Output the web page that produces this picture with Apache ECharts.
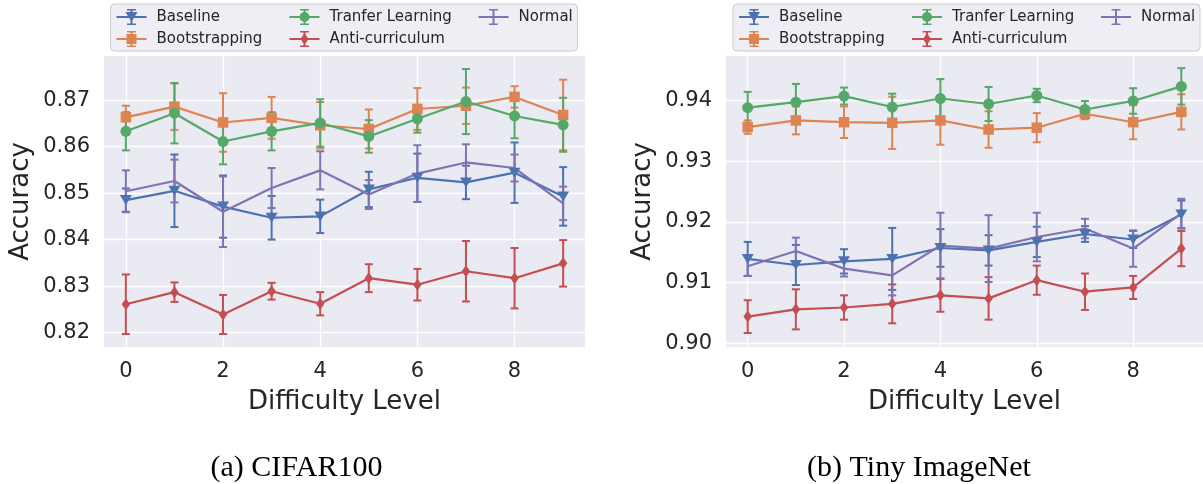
<!DOCTYPE html>
<html>
<head>
<meta charset="utf-8">
<title>Accuracy by difficulty level</title>
<script src="https://cdn.jsdelivr.net/npm/echarts@6/dist/echarts.min.js"></script>
<style>
  html, body { margin: 0; padding: 0; background: #ffffff; }
  #chart { width: 1203px; height: 484px; }
</style>
</head>
<body>
<div id="chart"></div>
<script>
// Difficulty levels on the x axis
const levels = [0, 1, 2, 3, 4, 5, 6, 7, 8, 9];
const xTicks = [0, 2, 4, 6, 8];
const yTicksCifar = [0.82, 0.83, 0.84, 0.85, 0.86, 0.87];
const yTicksTiny = [0.90, 0.91, 0.92, 0.93, 0.94];

const methods = ['Baseline', 'Bootstrapping', 'Tranfer Learning', 'Anti-curriculum', 'Normal'];

// CIFAR100: mean accuracy and error (half-width) per level
const cifarBaseline      = [0.8485, 0.8505, 0.8471, 0.8447, 0.8450, 0.8508, 0.8533, 0.8523, 0.8544, 0.8493];
const cifarBaselineErr   = [0.0025, 0.0078, 0.0067, 0.0047, 0.0036, 0.0038, 0.0052, 0.0036, 0.0065, 0.0063];
const cifarBootstrap     = [0.8663, 0.8686, 0.8652, 0.8662, 0.8646, 0.8638, 0.8681, 0.8688, 0.8707, 0.8668];
const cifarBootstrapErr  = [0.0025, 0.0050, 0.0063, 0.0045, 0.0050, 0.0042, 0.0045, 0.0039, 0.0023, 0.0076];
const cifarTransfer      = [0.8633, 0.8672, 0.8611, 0.8633, 0.8651, 0.8622, 0.8660, 0.8697, 0.8666, 0.8647];
const cifarTransferErr   = [0.0041, 0.0065, 0.0049, 0.0041, 0.0051, 0.0035, 0.0030, 0.0070, 0.0048, 0.0058];
const cifarAnti          = [0.8261, 0.8287, 0.8239, 0.8289, 0.8262, 0.8317, 0.8303, 0.8332, 0.8317, 0.8349];
const cifarAntiErr       = [0.0064, 0.0021, 0.0042, 0.0018, 0.0025, 0.0030, 0.0034, 0.0065, 0.0065, 0.0050];
const cifarNormal        = [0.8504, 0.8526, 0.8460, 0.8511, 0.8549, 0.8497, 0.8542, 0.8566, 0.8554, 0.8478];
const cifarNormalErr     = [0.0045, 0.0046, 0.0076, 0.0043, 0.0041, 0.0031, 0.0061, 0.0039, 0.0029, 0.0036];

// Tiny ImageNet: mean accuracy and error (half-width) per level
const tinyBaseline       = [0.9139, 0.9129, 0.9135, 0.9139, 0.9157, 0.9153, 0.9167, 0.9180, 0.9171, 0.9212];
const tinyBaselineErr    = [0.0028, 0.0033, 0.0020, 0.0051, 0.0031, 0.0025, 0.0025, 0.0013, 0.0014, 0.0023];
const tinyBootstrap      = [0.9356, 0.9367, 0.9364, 0.9363, 0.9367, 0.9352, 0.9355, 0.9378, 0.9364, 0.9381];
const tinyBootstrapErr   = [0.0011, 0.0023, 0.0026, 0.0043, 0.0040, 0.0030, 0.0024, 0.0009, 0.0028, 0.0029];
const tinyTransfer       = [0.9388, 0.9397, 0.9407, 0.9389, 0.9403, 0.9394, 0.9408, 0.9385, 0.9399, 0.9423];
const tinyTransferErr    = [0.0026, 0.0030, 0.0014, 0.0022, 0.0032, 0.0028, 0.0011, 0.0014, 0.0021, 0.0030];
const tinyAnti           = [0.9044, 0.9056, 0.9059, 0.9065, 0.9079, 0.9074, 0.9104, 0.9085, 0.9092, 0.9156];
const tinyAntiErr        = [0.0027, 0.0033, 0.0020, 0.0032, 0.0027, 0.0035, 0.0024, 0.0030, 0.0019, 0.0029];
const tinyNormal         = [0.9127, 0.9152, 0.9123, 0.9112, 0.9161, 0.9156, 0.9175, 0.9189, 0.9156, 0.9214];
const tinyNormalErr      = [0.0016, 0.0022, 0.0013, 0.0033, 0.0054, 0.0055, 0.0040, 0.0016, 0.0030, 0.0024];

const panels = [
  { caption: '(a) CIFAR100', ticks: yTicksCifar, min: 0.8169, max: 0.8795,
    means: [cifarBaseline, cifarBootstrap, cifarTransfer, cifarAnti, cifarNormal],
    errs:  [cifarBaselineErr, cifarBootstrapErr, cifarTransferErr, cifarAntiErr, cifarNormalErr] },
  { caption: '(b) Tiny ImageNet', ticks: yTicksTiny, min: 0.8994, max: 0.9473,
    means: [tinyBaseline, tinyBootstrap, tinyTransfer, tinyAnti, tinyNormal],
    errs:  [tinyBaselineErr, tinyBootstrapErr, tinyTransferErr, tinyAntiErr, tinyNormalErr] }
];

// seaborn "deep" palette
const colors = ['#4c72b0', '#dd8452', '#55a868', '#c44e52', '#8172b3'];
const markers = [
  { symbol: 'triangle', size: [12, 10], rotate: 180 },
  { symbol: 'rect', size: 10.5, rotate: 0 },
  { symbol: 'circle', size: 11, rotate: 0 },
  { symbol: 'diamond', size: [8.5, 12], rotate: 0 },
  { symbol: 'none', size: 0, rotate: 0 }
];

// legend glyphs (30 x 16 box): line + error bar + marker
const glyphBase = 'M0,7 H30 V9 H0 Z M14,0 H16 V16 H14 Z M10.5,0 H19.5 V1.6 H10.5 Z M10.5,14.4 H19.5 V16 H10.5 Z ';
const glyphMarks = [
  'M9,3 H21 L15,13 Z',
  'M10,3 H20 V13 H10 Z',
  'M10,8 A5,5 0 1,1 20,8 A5,5 0 1,1 10,8 Z',
  'M15,2 L19,8 L15,14 L11,8 Z',
  ''
];

const ink = '#262626';
const font = 'DejaVu Sans';

const plotTop = 56, plotHeight = 291;
const grids = [
  { left: 104, top: plotTop, width: 481, height: plotHeight },
  { left: 726, top: plotTop, width: 481, height: plotHeight }
];

function errorBarRenderer(color) {
  return function (params, api) {
    const x = api.value(0);
    const top = api.coord([x, api.value(2)]);
    const bot = api.coord([x, api.value(1)]);
    const cap = 4;
    const style = { stroke: color, lineWidth: 2 };
    return {
      type: 'group',
      children: [
        { type: 'line', shape: { x1: top[0], y1: top[1], x2: bot[0], y2: bot[1] }, style },
        { type: 'line', shape: { x1: top[0] - cap, y1: top[1], x2: top[0] + cap, y2: top[1] }, style },
        { type: 'line', shape: { x1: bot[0] - cap, y1: bot[1], x2: bot[0] + cap, y2: bot[1] }, style }
      ]
    };
  };
}

const xAxes = [], yAxes = [], series = [], legends = [], graphics = [];

panels.forEach((p, gi) => {
  xAxes.push({
    type: 'value', gridIndex: gi, min: -0.45, max: 9.45,
    name: 'Difficulty Level', nameLocation: 'middle', nameGap: 42,
    nameTextStyle: { fontFamily: font, fontSize: 26, color: ink },
    axisLine: { show: false },
    axisTick: { show: false, customValues: xTicks },
    axisLabel: { customValues: xTicks, margin: 14, fontFamily: font, fontSize: 21, color: ink },
    splitLine: { show: true, lineStyle: { color: '#ffffff', width: 1.3 } }
  });
  yAxes.push({
    type: 'value', gridIndex: gi, min: p.min, max: p.max,
    name: 'Accuracy', nameLocation: 'middle', nameGap: 70, nameRotate: 90,
    nameTextStyle: { fontFamily: font, fontSize: 26, color: ink },
    axisLine: { show: false },
    axisTick: { show: false, customValues: p.ticks },
    axisLabel: { customValues: p.ticks, margin: 14, fontFamily: font, fontSize: 21, color: ink,
                 formatter: v => v.toFixed(2) },
    splitLine: { show: true, lineStyle: { color: '#ffffff', width: 1.3 } }
  });

  methods.forEach((m, k) => {
    series.push({
      type: 'custom', name: m, xAxisIndex: gi, yAxisIndex: gi,
      renderItem: errorBarRenderer(colors[k]),
      encode: { x: 0, y: [1, 2] },
      itemStyle: { color: colors[k] },
      data: levels.map((l, i) => [l, p.means[k][i] - p.errs[k][i], p.means[k][i] + p.errs[k][i]]),
      z: 2
    });
    series.push({
      type: 'line', name: m, xAxisIndex: gi, yAxisIndex: gi,
      data: levels.map((l, i) => [l, p.means[k][i]]),
      symbol: markers[k].symbol, symbolSize: markers[k].size, symbolRotate: markers[k].rotate,
      showSymbol: markers[k].symbol !== 'none',
      itemStyle: { color: colors[k] },
      lineStyle: { color: colors[k], width: 2.2 },
      z: 2
    });
  });

  // legend frame and three columns of entries
  const boxLeft = gi === 0 ? 110.5 : 733;
  graphics.push({
    type: 'rect', z: 0,
    shape: { x: boxLeft, y: 4, width: 467, height: 47, r: 4 },
    style: { fill: '#eeeef4', stroke: '#cccccc', lineWidth: 1 }
  });
  const columns = [[0, 1], [2, 3], [4]];
  const colOffsets = [6, 179, 368];
  columns.forEach((col, ci) => {
    legends.push({
      orient: 'vertical', left: boxLeft + colOffsets[ci], top: 9, padding: 0,
      itemWidth: 30, itemHeight: 16, itemGap: 6,
      selectedMode: false,
      itemStyle: { borderWidth: 0 },
      textStyle: { fontFamily: font, fontSize: 15, color: ink, lineHeight: 16, padding: [0, 0, 0, 5] },
      data: col.map(k => ({ name: methods[k], icon: 'path://' + glyphBase + glyphMarks[k] }))
    });
  });

  // sub-figure caption
  graphics.push({
    type: 'text', x: gi === 0 ? 296.5 : 919, y: 468,
    style: { text: p.caption, font: '30px "Liberation Serif"', fill: '#000000',
             align: 'center', verticalAlign: 'middle' }
  });
});

const chart = echarts.init(document.getElementById('chart'), null, { renderer: 'canvas' });
chart.setOption({
  animation: false,
  backgroundColor: '#ffffff',
  grid: grids.map(g => Object.assign({ show: true, backgroundColor: '#eaeaf2', borderWidth: 0 }, g)),
  xAxis: xAxes,
  yAxis: yAxes,
  legend: legends,
  graphic: graphics,
  series: series
});
</script>
</body>
</html>
